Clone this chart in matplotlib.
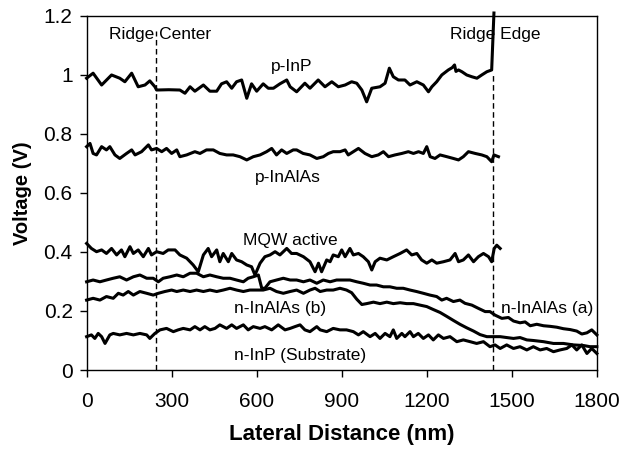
import matplotlib
matplotlib.use("Agg")
import matplotlib.pyplot as plt

plt.rcParams['font.family'] = ['Liberation Sans', 'DejaVu Sans']

# ---------------- data (x: lateral distance nm, y: voltage V) ----------------
p_inp_x = [0, 23, 53, 88, 117, 135, 159, 182, 206, 223,
           241, 247, 290, 329, 347, 365, 382, 412, 435, 459,
           476, 494, 512, 529, 547, 565, 582, 600, 623, 641,
           659, 682, 706, 718, 741, 770, 788, 817, 841, 865,
           888, 912, 935, 953, 971, 988, 1006, 1035, 1053, 1068,
           1082, 1100, 1123, 1141, 1165, 1188, 1206, 1218, 1235, 1253,
           1276, 1290, 1298, 1303, 1312, 1324, 1341, 1359, 1377, 1394,
           1412, 1429, 1437]
p_inp_y = [0.989, 1.006, 0.966, 1.000, 0.989, 0.977, 1.006, 0.960, 0.966, 0.980,
           0.960, 0.949, 0.950, 0.949, 0.938, 0.960, 0.945, 0.966, 0.945, 0.945,
           0.970, 0.977, 0.955, 0.977, 0.983, 0.921, 0.970, 0.945, 0.970, 0.955,
           0.955, 0.970, 0.983, 0.960, 0.943, 0.972, 0.955, 0.983, 0.960, 0.977,
           0.960, 0.966, 0.977, 0.972, 0.949, 0.909, 0.955, 0.960, 0.972, 1.023,
           0.994, 0.983, 0.983, 0.966, 0.977, 0.966, 0.943, 0.960, 0.977, 1.000,
           1.017, 1.025, 1.034, 1.012, 1.017, 1.011, 1.000, 0.994, 0.989, 1.000,
           1.011, 1.017, 1.21]

p_inalas_x = [0, 12, 23, 35, 53, 70, 82, 100, 117, 141,
              159, 171, 194, 218, 229, 247, 265, 282, 300, 318,
              329, 353, 382, 400, 423, 447, 470, 494, 517, 541,
              565, 588, 612, 635, 653, 670, 688, 706, 729, 741,
              764, 788, 812, 835, 853, 870, 894, 912, 923, 941,
              959, 982, 1006, 1029, 1047, 1065, 1088, 1112, 1135, 1153,
              1171, 1188, 1200, 1212, 1229, 1247, 1271, 1294, 1312, 1329,
              1347, 1371, 1394, 1412, 1429, 1437, 1453]
p_inalas_y = [0.757, 0.768, 0.734, 0.729, 0.757, 0.746, 0.757, 0.729, 0.717, 0.734,
              0.746, 0.729, 0.740, 0.763, 0.746, 0.751, 0.740, 0.751, 0.734, 0.746,
              0.723, 0.729, 0.740, 0.734, 0.746, 0.746, 0.734, 0.729, 0.729, 0.723,
              0.712, 0.723, 0.729, 0.740, 0.751, 0.729, 0.746, 0.734, 0.746, 0.746,
              0.734, 0.729, 0.717, 0.723, 0.734, 0.740, 0.740, 0.746, 0.729, 0.740,
              0.751, 0.734, 0.723, 0.729, 0.740, 0.723, 0.729, 0.734, 0.740, 0.734,
              0.740, 0.734, 0.757, 0.723, 0.717, 0.729, 0.723, 0.717, 0.712, 0.723,
              0.740, 0.734, 0.729, 0.723, 0.706, 0.729, 0.723]

mqw_x = [0, 17, 35, 53, 70, 88, 106, 123, 135, 153,
         165, 182, 200, 218, 229, 247, 270, 288, 312, 329,
         353, 376, 394, 412, 429, 441, 459, 470, 482, 500,
         512, 529, 547, 565, 582, 594, 612, 629, 647, 665,
         682, 706, 723, 741, 765, 788, 806, 818, 829, 847,
         859, 870, 888, 900, 912, 929, 941, 959, 976, 994,
         1006, 1018, 1035, 1059, 1082, 1106, 1129, 1147, 1165, 1182,
         1200, 1218, 1235, 1259, 1282, 1300, 1312, 1329, 1347, 1365,
         1382, 1400, 1418, 1429, 1438, 1447, 1459]
mqw_y = [0.429, 0.412, 0.401, 0.407, 0.395, 0.412, 0.390, 0.407, 0.384, 0.418,
         0.395, 0.407, 0.384, 0.412, 0.390, 0.401, 0.395, 0.407, 0.407, 0.390,
         0.379, 0.356, 0.333, 0.390, 0.412, 0.384, 0.407, 0.367, 0.395, 0.367,
         0.395, 0.373, 0.367, 0.356, 0.350, 0.322, 0.362, 0.384, 0.390, 0.401,
         0.390, 0.412, 0.395, 0.395, 0.384, 0.367, 0.333, 0.362, 0.333, 0.373,
         0.367, 0.390, 0.384, 0.407, 0.384, 0.412, 0.390, 0.395, 0.384, 0.367,
         0.339, 0.367, 0.379, 0.373, 0.384, 0.395, 0.407, 0.390, 0.395, 0.373,
         0.362, 0.373, 0.362, 0.367, 0.373, 0.395, 0.367, 0.373, 0.390, 0.367,
         0.384, 0.395, 0.384, 0.367, 0.412, 0.423, 0.412]

n_inalas_a_x = [0, 23, 47, 70, 94, 117, 141, 165, 188, 212,
                235, 253, 270, 294, 318, 341, 365, 388, 412, 435,
                459, 482, 506, 529, 553, 570, 588, 606, 618, 629,
                647, 670, 694, 718, 741, 765, 788, 812, 835, 859,
                882, 906, 929, 953, 976, 1000, 1023, 1047, 1070, 1094,
                1117, 1141, 1164, 1188, 1211, 1235, 1253, 1270, 1294, 1317,
                1335, 1359, 1382, 1406, 1423, 1441, 1465, 1488, 1506, 1529,
                1547, 1565, 1588, 1612, 1635, 1659, 1682, 1706, 1729, 1747,
                1765, 1782, 1800]
n_inalas_a_y = [0.299, 0.305, 0.299, 0.305, 0.311, 0.316, 0.305, 0.316, 0.322, 0.311,
                0.311, 0.299, 0.311, 0.316, 0.322, 0.316, 0.328, 0.328, 0.316, 0.322,
                0.316, 0.311, 0.311, 0.305, 0.299, 0.311, 0.316, 0.322, 0.277, 0.277,
                0.299, 0.305, 0.311, 0.305, 0.305, 0.299, 0.305, 0.294, 0.305, 0.299,
                0.305, 0.305, 0.305, 0.299, 0.294, 0.288, 0.288, 0.282, 0.282, 0.277,
                0.277, 0.271, 0.266, 0.260, 0.254, 0.249, 0.237, 0.243, 0.232, 0.237,
                0.226, 0.220, 0.209, 0.198, 0.198, 0.186, 0.175, 0.178, 0.166, 0.160,
                0.163, 0.150, 0.155, 0.150, 0.148, 0.145, 0.140, 0.137, 0.132, 0.122,
                0.126, 0.136, 0.119]

n_inalas_b_x = [0, 23, 47, 70, 94, 112, 129, 147, 165, 188,
                212, 235, 253, 276, 300, 318, 341, 365, 388, 412,
                435, 459, 482, 506, 529, 553, 576, 600, 623, 647,
                670, 694, 718, 741, 765, 788, 806, 824, 847, 870,
                894, 917, 935, 953, 971, 988, 1012, 1035, 1059, 1082,
                1106, 1129, 1153, 1176, 1200, 1223, 1247, 1270, 1294, 1317,
                1341, 1365, 1388, 1412, 1435, 1459, 1482, 1506, 1529, 1553,
                1576, 1612, 1647, 1682, 1718, 1753, 1776, 1800]
n_inalas_b_y = [0.237, 0.243, 0.237, 0.249, 0.243, 0.260, 0.254, 0.266, 0.254, 0.266,
                0.260, 0.254, 0.260, 0.266, 0.271, 0.266, 0.271, 0.266, 0.271, 0.266,
                0.271, 0.266, 0.271, 0.277, 0.271, 0.266, 0.271, 0.271, 0.271, 0.277,
                0.266, 0.260, 0.266, 0.271, 0.260, 0.271, 0.277, 0.266, 0.271, 0.271,
                0.277, 0.271, 0.262, 0.240, 0.222, 0.225, 0.230, 0.225, 0.230, 0.225,
                0.228, 0.225, 0.225, 0.220, 0.215, 0.205, 0.195, 0.182, 0.168, 0.155,
                0.143, 0.132, 0.120, 0.113, 0.113, 0.113, 0.110, 0.107, 0.110, 0.102,
                0.100, 0.096, 0.090, 0.090, 0.085, 0.083, 0.079, 0.079]

n_inp_x = [0, 17, 29, 41, 53, 65, 82, 94, 117, 141,
           165, 188, 212, 223, 241, 259, 282, 306, 323, 341,
           365, 382, 400, 417, 435, 453, 470, 494, 512, 529,
           553, 570, 588, 612, 629, 653, 676, 700, 718, 735,
           753, 770, 788, 812, 824, 847, 870, 894, 917, 941,
           959, 976, 1000, 1018, 1035, 1053, 1070, 1082, 1094, 1112,
           1123, 1141, 1153, 1170, 1188, 1206, 1223, 1241, 1259, 1282,
           1306, 1329, 1353, 1376, 1400, 1423, 1441, 1459, 1482, 1506,
           1529, 1553, 1576, 1600, 1623, 1647, 1670, 1694, 1712, 1729,
           1747, 1765, 1782, 1800]
n_inp_y = [0.113, 0.119, 0.107, 0.124, 0.113, 0.090, 0.119, 0.124, 0.119, 0.124,
           0.119, 0.124, 0.119, 0.107, 0.124, 0.136, 0.141, 0.130, 0.136, 0.141,
           0.136, 0.147, 0.136, 0.147, 0.136, 0.141, 0.153, 0.141, 0.153, 0.141,
           0.153, 0.136, 0.147, 0.141, 0.147, 0.136, 0.153, 0.136, 0.141, 0.147,
           0.153, 0.136, 0.130, 0.147, 0.136, 0.130, 0.141, 0.136, 0.136, 0.130,
           0.119, 0.130, 0.113, 0.124, 0.107, 0.124, 0.113, 0.136, 0.107, 0.124,
           0.113, 0.130, 0.113, 0.124, 0.107, 0.119, 0.102, 0.119, 0.107, 0.113,
           0.096, 0.102, 0.096, 0.090, 0.096, 0.079, 0.085, 0.073, 0.085, 0.073,
           0.079, 0.068, 0.079, 0.068, 0.073, 0.062, 0.068, 0.073, 0.085, 0.068,
           0.085, 0.056, 0.073, 0.056]

ridge_center_x = 245
ridge_edge_x = 1435

x_ticks = [0, 300, 600, 900, 1200, 1500, 1800]
y_ticks = [0, 0.2, 0.4, 0.6, 0.8, 1.0, 1.2]
y_tick_labels = ["0", "0.2", "0.4", "0.6", "0.8", "1", "1.2"]

# ---------------- figure ----------------
fig = plt.figure(figsize=(6.23, 4.51), dpi=100)
ax = fig.add_axes([0.139, 0.1796, 0.819, 0.785])

lw = 2.2
# dashed ridge markers
ax.plot([ridge_center_x, ridge_center_x], [0, 1.15], color='black', lw=1.0,
        linestyle=(0, (4, 2.5)), zorder=2)
ax.plot([ridge_edge_x, ridge_edge_x], [0, 1.0], color='black', lw=1.0,
        linestyle=(0, (4, 2.5)), zorder=2)

series = [
    (p_inp_x, p_inp_y),
    (p_inalas_x, p_inalas_y),
    (mqw_x, mqw_y),
    (n_inalas_a_x, n_inalas_a_y),
    (n_inalas_b_x, n_inalas_b_y),
    (n_inp_x, n_inp_y),
]
for xs, ys in series:
    ax.plot(xs, ys, color='black', lw=lw, solid_joinstyle='round', zorder=3,
            clip_on=False)

ax.set_xlim(0, 1800)
ax.set_ylim(0, 1.2)
ax.set_xticks(x_ticks)
ax.set_xticklabels([str(v) for v in x_ticks])
ax.set_yticks(y_ticks)
ax.set_yticklabels(y_tick_labels)
ax.tick_params(direction='out', length=5, width=1, labelsize=15)
ax.tick_params(axis='x', pad=11)
ax.tick_params(axis='y', pad=5)
for s in ax.spines.values():
    s.set_linewidth(1.0)

ax.set_xlabel("Lateral Distance (nm)", fontsize=16, fontweight='bold', labelpad=9)
ax.set_ylabel("Voltage (V)", fontsize=14.5, fontweight='bold', labelpad=8)

tfs = 12.5
ax.text(259, 1.136, "Ridge Center", ha='center', va='center', fontsize=tfs)
ax.text(1441, 1.136, "Ridge Edge", ha='center', va='center', fontsize=tfs)
ax.text(725, 1.03, "p-InP", ha='center', va='center', fontsize=tfs)
ax.text(711, 0.651, "p-InAlAs", ha='center', va='center', fontsize=tfs)
ax.text(718, 0.44, "MQW active", ha='center', va='center', fontsize=tfs)
ax.text(682, 0.210, "n-InAlAs (b)", ha='center', va='center', fontsize=tfs)
ax.text(753, 0.05, "n-InP (Substrate)", ha='center', va='center', fontsize=tfs)
ax.text(1625, 0.207, "n-InAlAs (a)", ha='center', va='center', fontsize=tfs)

fig.savefig("out.png", dpi=100)
